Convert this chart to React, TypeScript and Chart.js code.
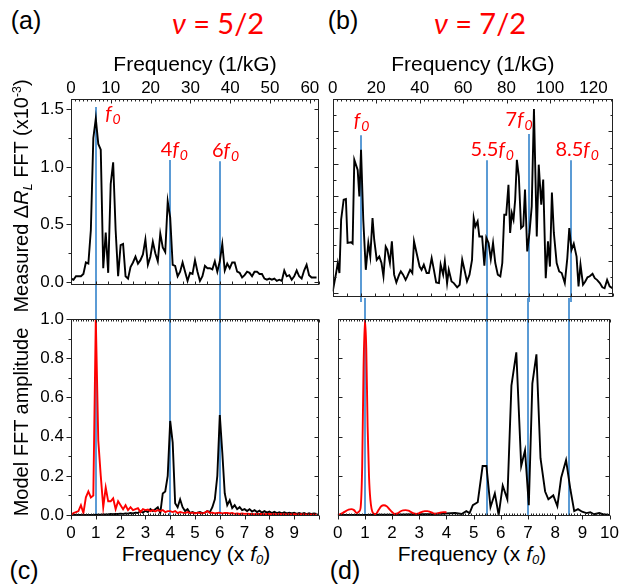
import React, { useEffect, useRef } from 'react';
import { Chart, registerables } from 'chart.js';
Chart.register(...registerables);

// ---------------- data ----------------
// conversion: 1 f0 in 1/kG units for each filling factor
const F0_A = 6.23;
const F0_B = 12.9;

const topTicksA = [0, 10, 20, 30, 40, 50, 60];
const topTicksB = [0, 20, 40, 60, 80, 100, 120];
const yTicksA = [0, 0.5, 1.0, 1.5];
const yTicksC = [0, 0.2, 0.4, 0.6, 0.8, 1.0];
const xTicksC = [0, 1, 2, 3, 4, 5, 6, 7, 8, 9];
const xTicksD = [0, 1, 2, 3, 4, 5, 6, 7, 8, 9, 10];

// harmonic markers (x in units of f0, top of marker line in panel units)
const harmonicsA = [1, 4, 6];
const harmonicTopsA = [1.52, 1.06, 1.05];
const harmonicPrefixA = ['', '4', '6'];
const labelXA = [1.69, 4.17, 6.23];
const labelYA = [1.45, 1.14, 1.13];

const harmonicsB = [1, 5.5, 7, 8.5];
const harmonicTopsB = [4.88, 4.11, 4.92, 4.11];
const harmonicPrefixB = ['', '5.5', '7', '8.5'];
const labelXB = [1.03, 5.69, 6.65, 8.72];
const labelYB = [5.29, 4.39, 5.32, 4.39];

// frequency grid (x f0) for panels (a) and (c)
const freqGridAC = [
  0, 0.1, 0.2, 0.3, 0.4, 0.5, 0.6, 0.7, 0.8, 0.9,
  1, 1.1, 1.2, 1.3, 1.4, 1.5, 1.6, 1.7, 1.8, 1.9,
  2, 2.1, 2.2, 2.3, 2.4, 2.5, 2.6, 2.7, 2.8, 2.9,
  3, 3.1, 3.2, 3.3, 3.4, 3.5, 3.6, 3.7, 3.8, 3.9,
  4, 4.1, 4.2, 4.3, 4.4, 4.5, 4.6, 4.7, 4.8, 4.9,
  5, 5.1, 5.2, 5.3, 5.4, 5.5, 5.6, 5.7, 5.8, 5.9,
  6, 6.1, 6.2, 6.3, 6.4, 6.5, 6.6, 6.7, 6.8, 6.9,
  7, 7.1, 7.2, 7.3, 7.4, 7.5, 7.6, 7.7, 7.8, 7.9,
  8, 8.1, 8.2, 8.3, 8.4, 8.5, 8.6, 8.7, 8.8, 8.9,
  9, 9.1, 9.2, 9.3, 9.4, 9.5, 9.6, 9.7, 9.8, 9.9,
];

// (a) measured FFT, nu = 5/2  (x10^-3)
const measuredA = [
  0.03, 0.02, 0.05, 0.05, 0.05, 0.07, 0.17, 0.16, 0.45, 1.25,
  1.42, 1.2, 1.15, 0.12, 0.43, 0.08, 0.85, 1.04, 0.45, 0.05,
  0.32, 0.33, 0.05, 0.03, 0.13, 0.17, 0.22, 0.16, 0.19, 0.24,
  0.37, 0.15, 0.22, 0.35, 0.25, 0.18, 0.42, 0.30, 0.26, 0.70,
  0.56, 0.15, 0.14, 0.05, 0.09, 0.17, 0.09, 0.01, 0.08, 0.07,
  0.19, 0.09, 0.01, 0.05, 0.14, 0.12, 0.12, 0.11, 0.18, 0.09,
  0.18, 0.33, 0.10, 0.16, 0.12, 0.17, 0.17, 0.09, 0.08, 0.04,
  0.06, 0.09, 0.08, 0.05, 0.09, 0.09, 0.07, 0.07, 0.03, 0.02,
  0.03, 0.02, 0.03, 0.01, 0.02, 0.01, 0.10, 0.05, 0.06, 0.02,
  0.05, 0.10, 0.05, 0.03, 0.10, 0.15, 0.06, 0.04, 0.04, 0.04,
];

// (c) model FFT, nu = 5/2
const modelRedC = [
  0.0, 0.01, 0.015, 0.02, 0.05, 0.01, 0.09, 0.12, 0.09, 0.1,
  1.0, 0.38, 0.2, 0.04, 0.14, 0.07, 0.07, 0.085, 0.03, 0.07,
  0.05, 0.03, 0.05, 0.025, 0.04, 0.025, 0.03, 0.035, 0.015, 0.03,
  0.025, 0.028, 0.02, 0.025, 0.018, 0.025, 0.02, 0.025, 0.015, 0.02,
  0.02, 0.015, 0.02, 0.01, 0.015, 0.012, 0.01, 0.015, 0.01, 0.012,
  0.008, 0.012, 0.01, 0.008, 0.012, 0.02, 0.01, 0.012, 0.008, 0.01,
  0.012, 0.008, 0.01, 0.01, 0.008, 0.01, 0.006, 0.008, 0.005, 0.008,
  0.006, 0.007, 0.005, 0.006, 0.004, 0.006, 0.005, 0.006, 0.004, 0.005,
  0.005, 0.004, 0.005, 0.003, 0.005, 0.004, 0.004, 0.003, 0.004, 0.003,
  0.004, 0.003, 0.003, 0.004, 0.003, 0.003, 0.002, 0.003, 0.002, 0.002,
];
const modelBlackC = [
  0, 0, 0, 0, 0, 0, 0, 0, 0, 0,
  0.002, 0.002, 0.002, 0.003, 0.003, 0.003, 0.005, 0.004, 0.006, 0.005,
  0.007, 0.006, 0.008, 0.007, 0.01, 0.008, 0.012, 0.01, 0.02, 0.012,
  0.022, 0.015, 0.03, 0.02, 0.03, 0.04, 0.01, 0.11, 0.12, 0.2,
  0.48, 0.37, 0.06, 0.04, 0.08, 0.04, 0.02, 0.03, 0.01, 0.015,
  0.01, 0.012, 0.015, 0.01, 0.012, 0.02, 0.015, 0.04, 0.08, 0.2,
  0.51, 0.32, 0.11, 0.05, 0.075, 0.035, 0.05, 0.03, 0.04, 0.025,
  0.03, 0.02, 0.03, 0.018, 0.025, 0.015, 0.022, 0.012, 0.02, 0.012,
  0.018, 0.01, 0.016, 0.01, 0.014, 0.008, 0.014, 0.008, 0.012, 0.008,
  0.012, 0.006, 0.01, 0.006, 0.01, 0.005, 0.009, 0.005, 0.008, 0.005,
];

// (b) measured FFT, nu = 7/2
const freqB = [
  0.00, 0.12, 0.18, 0.24, 0.30, 0.39, 0.47, 0.53, 0.65, 0.71,
  0.77, 0.89, 0.95, 1.01, 1.09, 1.18, 1.27, 1.34, 1.42, 1.48,
  1.57, 1.66, 1.74, 1.81, 1.89, 1.95, 2.04, 2.11, 2.19, 2.27,
  2.37, 2.43, 2.51, 2.60, 2.66, 2.76, 2.84, 2.90, 3.02, 3.10,
  3.17, 3.25, 3.35, 3.43, 3.53, 3.61, 3.69, 3.79, 3.85, 3.94,
  4.00, 4.08, 4.14, 4.24, 4.32, 4.44, 4.53, 4.62, 4.70, 4.79,
  4.88, 4.97, 5.03, 5.09, 5.17, 5.23, 5.33, 5.41, 5.48, 5.56,
  5.64, 5.72, 5.80, 5.89, 5.98, 6.05, 6.12, 6.19, 6.27, 6.33,
  6.39, 6.45, 6.51, 6.57, 6.64, 6.72, 6.80, 6.86, 6.94, 7.02,
  7.10, 7.18, 7.28, 7.35, 7.44, 7.51, 7.60, 7.68, 7.75, 7.82,
  7.89, 7.99, 8.08, 8.17, 8.28, 8.37, 8.44, 8.52, 8.60, 8.70,
  8.77, 8.84, 8.93, 9.01, 9.09, 9.17, 9.27, 9.35, 9.43, 9.53,
  9.62, 9.70, 9.79, 9.88, 9.98,
];
const measuredB = [
  0.05, 0.62, 0.93, 0.62, 2.27, 2.89, 2.91, 1.55, 1.57, 1.53,
  4.12, 3.81, 2.99, 4.43, 2.27, 0.72, 1.55, 1.13, 2.32, 1.65,
  1.03, 1.13, 0.93, 0.52, 1.44, 1.34, 0.93, 1.60, 0.57, 0.33,
  0.57, 0.67, 0.57, 0.41, 0.52, 0.72, 0.62, 1.60, 1.13, 0.82,
  0.72, 0.88, 0.62, 0.62, 1.08, 0.72, 0.33, 0.31, 0.88, 0.57,
  0.98, 0.31, 0.72, 0.36, 0.31, 0.18, 0.26, 1.03, 0.72, 0.36,
  0.57, 1.03, 2.32, 2.06, 2.22, 1.75, 1.75, 0.85, 1.71, 1.55,
  1.05, 1.55, 0.93, 0.57, 0.52, 0.93, 2.42, 2.42, 3.35, 1.86,
  2.47, 2.27, 2.89, 4.12, 3.61, 2.01, 2.08, 3.20, 1.29, 1.86,
  2.68, 5.69, 1.75, 3.97, 2.73, 3.51, 0.46, 1.60, 0.82, 3.11,
  1.86, 0.93, 0.67, 0.62, 0.31, 1.08, 2.01, 1.34, 1.53, 1.13,
  0.21, 0.88, 0.26, 0.36, 0.49, 0.52, 0.60, 0.46, 0.41, 0.31,
  0.18, 0.15, 0.41, 0.21, 0.15,
];

// (d) model FFT, nu = 7/2
const freqRedD = [
  0, 0.1, 0.2, 0.3, 0.4, 0.5, 0.6, 0.7, 0.8, 0.85,
  0.9, 0.95, 1.0, 1.05, 1.1, 1.15, 1.2, 1.3, 1.4, 1.5,
  1.6, 1.7, 1.8, 1.9, 2.0, 2.1, 2.2, 2.3, 2.4, 2.5,
  2.6, 2.7, 2.8, 2.9, 3.0, 3.1, 3.2, 3.3, 3.4, 3.5,
  3.6, 3.7, 3.8, 3.9, 4.0,
];
const modelRedD = [
  0.002, 0.005, 0.012, 0.02, 0.028, 0.03, 0.025, 0.01, 0.02, 0.05,
  0.25, 0.75, 1.0, 0.85, 0.45, 0.2, 0.08, 0.01, 0.005, 0.025,
  0.045, 0.05, 0.045, 0.03, 0.015, 0.005, 0.008, 0.018, 0.024, 0.025,
  0.022, 0.015, 0.008, 0.006, 0.01, 0.016, 0.02, 0.02, 0.016, 0.01,
  0.007, 0.01, 0.013, 0.015, 0.014,
];
const freqBlackD = [
  0, 0.5, 1, 1.5, 2, 2.5, 3, 3.5, 3.99, 4.32,
  4.56, 4.73, 4.85, 4.97, 5.15, 5.33, 5.47, 5.62, 5.78, 5.92,
  6.07, 6.24, 6.39, 6.57, 6.75, 6.89, 7.03, 7.16, 7.31, 7.46,
  7.63, 7.75, 7.93, 8.08, 8.22, 8.40, 8.56, 8.70, 8.84, 8.99,
  9.15, 9.29, 9.43, 9.62, 9.76, 10.0,
];
const modelBlackD = [
  0, 0, 0, 0.001, 0.002, 0.003, 0.004, 0.005, 0.008, 0.01,
  0.005, 0.02, 0.01, 0.05, 0.065, 0.25, 0.25, 0.04, 0.11, 0.0,
  0.15, 0.08, 0.66, 0.83, 0.25, 0.33, 0.05, 0.67, 0.82, 0.29,
  0.12, 0.08, 0.10, 0.045, 0.19, 0.28, 0.13, 0.02, 0.03, 0.017,
  0.01, 0.014, 0.004, 0.01, 0.004, 0.0,
];

// ---------------- styling ----------------
const FONT = '"Liberation Sans", Arial, sans-serif';
const LABEL_FONT = 'Lato, "Open Sans", sans-serif';
const BLUE = '#5B9BD5';
const RED = '#FF0000';
const FRAME = '#222';
const TICK_SIZE = 17;

const toPoints = (xs: number[], ys: number[]) => xs.map((x, i) => ({ x, y: ys[i] }));

type Side = {
  pos: 'left' | 'right' | 'top' | 'bottom';
  scale: string;
  step: number;
  major: number;
  majorDir: 'in' | 'out';
  minorDir: 'in' | 'out';
  majorLen: number;
  minorLen: number;
};

const framePlugin = {
  id: 'frame',
  afterDraw(chart: any, _args: any, opts: any) {
    const sides: Side[] = opts && opts.sides;
    if (!sides) return;
    const { ctx, chartArea: ca } = chart;
    const L = Math.round(ca.left) + 0.5;
    const R = Math.round(ca.right) - 0.5;
    const T = Math.round(ca.top) + 0.5;
    const B = Math.round(ca.bottom) - 0.5;
    ctx.save();
    ctx.strokeStyle = FRAME;
    ctx.lineWidth = 1;
    ctx.strokeRect(L, T, R - L, B - T);
    for (const s of sides) {
      const sc = chart.scales[s.scale];
      const start = Math.ceil((sc.min - 1e-9) / s.step);
      ctx.beginPath();
      for (let k = start; k * s.step <= sc.max + 1e-9; k++) {
        const v = k * s.step;
        const isMajor = Math.abs(v / s.major - Math.round(v / s.major)) < 1e-6;
        const len = isMajor ? s.majorLen : s.minorLen;
        const dir = isMajor ? s.majorDir : s.minorDir;
        const p = Math.round(sc.getPixelForValue(v)) + 0.5;
        if (s.pos === 'left') {
          ctx.moveTo(L, p); ctx.lineTo(dir === 'out' ? L - len : L + len, p);
        } else if (s.pos === 'right') {
          ctx.moveTo(R, p); ctx.lineTo(dir === 'out' ? R + len : R - len, p);
        } else if (s.pos === 'top') {
          ctx.moveTo(p, T); ctx.lineTo(p, dir === 'out' ? T - len : T + len);
        } else {
          ctx.moveTo(p, B); ctx.lineTo(p, dir === 'out' ? B + len : B - len);
        }
      }
      ctx.stroke();
    }
    ctx.restore();
  },
};

function drawHarmonicLabel(ctx: CanvasRenderingContext2D, cx: number, cy: number, prefix: string, size: number) {
  const up = `${size}px ${LABEL_FONT}`;
  const it = `italic ${size}px ${LABEL_FONT}`;
  const sub = `italic ${Math.round(size * 0.68)}px ${LABEL_FONT}`;
  ctx.font = up; const wp = ctx.measureText(prefix).width;
  ctx.font = it; const wf = ctx.measureText('f').width;
  ctx.font = sub; const ws = ctx.measureText('0').width;
  const total = wp + wf + ws + 1;
  let x = cx - total / 2;
  const base = cy + size * 0.25;
  ctx.fillStyle = RED;
  ctx.textAlign = 'left';
  ctx.textBaseline = 'alphabetic';
  if (prefix) { ctx.font = up; ctx.fillText(prefix, x, base); x += wp; }
  ctx.font = it; ctx.fillText('f', x, base); x += wf + 1;
  ctx.font = sub; ctx.fillText('0', x, base + size * 0.2);
}

const harmonicsPlugin = {
  id: 'harmonics',
  beforeDatasetsDraw(chart: any, _args: any, opts: any) {
    if (!opts || !opts.xs) return;
    const { ctx, chartArea } = chart;
    const xs = chart.scales.x;
    const ys = chart.scales.y;
    ctx.save();
    ctx.strokeStyle = BLUE;
    ctx.lineWidth = 2;
    opts.xs.forEach((hx: number, i: number) => {
      const px = Math.round(xs.getPixelForValue(hx));
      const y0 = opts.tops ? ys.getPixelForValue(opts.tops[i]) : 0;
      const y1 = opts.tops ? chart.height : chartArea.bottom;
      ctx.beginPath();
      ctx.moveTo(px, y0);
      ctx.lineTo(px, y1);
      ctx.stroke();
    });
    if (opts.labelX) {
      opts.labelX.forEach((lx: number, i: number) => {
        drawHarmonicLabel(ctx, xs.getPixelForValue(lx), ys.getPixelForValue(opts.labelY[i]), opts.prefix[i], 20);
      });
    }
    ctx.restore();
  },
};

const tickFont = { family: FONT, size: TICK_SIZE };

function leftAxis(min: number, max: number, ticks: number[]) {
  return {
    type: 'linear', position: 'left', min, max,
    afterBuildTicks: (ax: any) => { ax.ticks = ticks.map((v) => ({ value: v })); },
    afterFit: (ax: any) => { ax.width = 71; },
    grid: { display: false, drawTicks: false },
    border: { display: false },
    ticks: { font: tickFont, color: '#000', padding: 7, autoSkip: false, callback: (v: any) => Number(v).toFixed(1) },
  };
}

function topAxis(max: number, ticks: number[]) {
  return {
    type: 'linear', position: 'top', min: 0, max,
    afterBuildTicks: (ax: any) => { ax.ticks = ticks.map((v) => ({ value: v })); },
    afterFit: (ax: any) => { ax.height = 59; },
    grid: { display: false, drawTicks: false },
    border: { display: false },
    ticks: { font: { ...tickFont, lineHeight: 1 }, color: '#000', padding: 2, autoSkip: false, maxRotation: 0, callback: (v: any) => String(v) },
    title: { display: true, text: 'Frequency (1/kG)', color: '#000', font: { family: FONT, size: 21 }, padding: { top: 13, bottom: 0 } },
  };
}

function bottomAxis(ticks: number[], height: number) {
  return {
    type: 'linear', position: 'bottom', min: 0, max: 10,
    afterBuildTicks: (ax: any) => { ax.ticks = ticks.map((v) => ({ value: v })); },
    afterFit: (ax: any) => { ax.height = height; },
    grid: { display: false, drawTicks: false },
    border: { display: false },
    ticks: { font: tickFont, color: '#000', padding: 7, autoSkip: false, maxRotation: 0, callback: (v: any) => String(v) },
  };
}

const lineDs = (data: any[], color: string, width: number, extra: any = {}) => ({
  data, borderColor: color, backgroundColor: color, borderWidth: width, pointRadius: 0, tension: 0, fill: false, ...extra,
});

const baseOptions = (padding: any) => ({
  responsive: false,
  animation: false,
  devicePixelRatio: 1,
  layout: { padding },
  events: [],
});

function buildA(): any {
  return {
    type: 'line',
    data: { datasets: [lineDs(toPoints(freqGridAC, measuredA), '#000', 1.9)] },
    options: {
      ...baseOptions({ left: 0, right: 7, top: 0, bottom: 5 }),
      plugins: {
        legend: { display: false }, tooltip: { enabled: false },
        harmonics: { xs: harmonicsA, tops: harmonicTopsA, labelX: labelXA, labelY: labelYA, prefix: harmonicPrefixA },
        frame: {
          sides: [
            { pos: 'left', scale: 'y', step: 0.25, major: 0.5, majorDir: 'out', minorDir: 'out', majorLen: 5, minorLen: 3 },
            { pos: 'right', scale: 'y', step: 0.25, major: 0.5, majorDir: 'in', minorDir: 'in', majorLen: 4, minorLen: 2 },
            { pos: 'top', scale: 'xTop', step: 1, major: 10, majorDir: 'in', minorDir: 'in', majorLen: 4, minorLen: 2 },
            { pos: 'bottom', scale: 'x', step: 0.5, major: 1, majorDir: 'in', minorDir: 'in', majorLen: 3, minorLen: 3 },
          ],
        },
      },
      scales: {
        x: { type: 'linear', display: false, min: 0, max: 10 },
        xTop: topAxis(F0_A * 10, topTicksA),
        y: leftAxis(-0.024, 1.59, yTicksA),
      },
    },
    plugins: [framePlugin, harmonicsPlugin],
  };
}

function buildB(): any {
  return {
    type: 'line',
    data: { datasets: [lineDs(toPoints(freqB, measuredB), '#000', 1.9)] },
    options: {
      ...baseOptions({ left: 6, right: 13, top: 0, bottom: 5 }),
      plugins: {
        legend: { display: false }, tooltip: { enabled: false },
        harmonics: { xs: harmonicsB, tops: harmonicTopsB, labelX: labelXB, labelY: labelYB, prefix: harmonicPrefixB },
        frame: {
          sides: [
            { pos: 'left', scale: 'y', step: 0.5, major: 1, majorDir: 'in', minorDir: 'in', majorLen: 5, minorLen: 3 },
            { pos: 'right', scale: 'y', step: 0.5, major: 1, majorDir: 'in', minorDir: 'in', majorLen: 4, minorLen: 2 },
            { pos: 'top', scale: 'xTop', step: 2, major: 20, majorDir: 'in', minorDir: 'in', majorLen: 4, minorLen: 2 },
            { pos: 'bottom', scale: 'x', step: 0.5, major: 1, majorDir: 'in', minorDir: 'in', majorLen: 3, minorLen: 3 },
          ],
        },
      },
      scales: {
        x: { type: 'linear', display: false, min: 0, max: 10 },
        xTop: topAxis(F0_B * 10, topTicksB),
        y: { type: 'linear', display: false, min: -0.12, max: 6 },
      },
    },
    plugins: [framePlugin, harmonicsPlugin],
  };
}

function buildC(): any {
  return {
    type: 'line',
    data: {
      datasets: [
        lineDs(toPoints(freqGridAC, modelRedC), RED, 1.9),
        lineDs(toPoints(freqGridAC, modelBlackC), '#000', 1.9),
      ],
    },
    options: {
      ...baseOptions({ left: 0, right: 7, top: 21, bottom: 0 }),
      plugins: {
        legend: { display: false }, tooltip: { enabled: false },
        harmonics: { xs: harmonicsA },
        frame: {
          sides: [
            { pos: 'left', scale: 'y', step: 0.1, major: 0.2, majorDir: 'out', minorDir: 'out', majorLen: 5, minorLen: 3 },
            { pos: 'right', scale: 'y', step: 0.1, major: 0.2, majorDir: 'in', minorDir: 'in', majorLen: 4, minorLen: 2 },
            { pos: 'top', scale: 'x', step: 0.1, major: 1, majorDir: 'in', minorDir: 'in', majorLen: 3, minorLen: 2 },
            { pos: 'bottom', scale: 'x', step: 0.1, major: 1, majorDir: 'out', minorDir: 'in', majorLen: 4, minorLen: 2 },
          ],
        },
      },
      scales: {
        x: bottomAxis(xTicksC, 24),
        y: leftAxis(-0.005, 1.0, yTicksC),
      },
    },
    plugins: [framePlugin, harmonicsPlugin],
  };
}

function buildD(): any {
  return {
    type: 'line',
    data: {
      datasets: [
        lineDs(toPoints(freqRedD, modelRedD), RED, 1.9, { tension: 0.4, cubicInterpolationMode: 'monotone' }),
        lineDs(toPoints(freqBlackD, modelBlackD), '#000', 1.9),
      ],
    },
    options: {
      ...baseOptions({ left: 6, right: 13, top: 21, bottom: 0 }),
      plugins: {
        legend: { display: false }, tooltip: { enabled: false },
        harmonics: { xs: harmonicsB },
        frame: {
          sides: [
            { pos: 'left', scale: 'y', step: 0.1, major: 0.2, majorDir: 'in', minorDir: 'in', majorLen: 4, minorLen: 2 },
            { pos: 'right', scale: 'y', step: 0.1, major: 0.2, majorDir: 'in', minorDir: 'in', majorLen: 4, minorLen: 2 },
            { pos: 'top', scale: 'x', step: 0.1, major: 1, majorDir: 'in', minorDir: 'in', majorLen: 3, minorLen: 2 },
            { pos: 'bottom', scale: 'x', step: 0.1, major: 1, majorDir: 'out', minorDir: 'in', majorLen: 4, minorLen: 2 },
          ],
        },
      },
      scales: {
        x: bottomAxis(xTicksD, 24),
        y: { type: 'linear', display: false, min: -0.005, max: 1.0 },
      },
    },
    plugins: [framePlugin, harmonicsPlugin],
  };
}

function ChartCanvas({ left, top, width, height, build }: { left: number; top: number; width: number; height: number; build: () => any }) {
  const ref = useRef<HTMLCanvasElement>(null);
  useEffect(() => {
    const chart = new Chart(ref.current as HTMLCanvasElement, build());
    return () => chart.destroy();
  }, [build]);
  return (
    <canvas
      ref={ref}
      width={width}
      height={height}
      style={{ position: 'absolute', left, top, width, height, display: 'block' }}
    />
  );
}

function Txt({ x, y, size, color = '#000', family = FONT, rotate = false, children }: any) {
  return (
    <div
      style={{
        position: 'absolute', left: x, top: y, whiteSpace: 'nowrap', lineHeight: 1,
        fontSize: size, color, fontFamily: family,
        transform: `translate(-50%, -50%)${rotate ? ' rotate(-90deg)' : ''}`,
      }}
    >
      {children}
    </div>
  );
}

const subStyle: any = { fontSize: '0.62em', verticalAlign: '-0.3em', lineHeight: 0 };
const supStyle: any = { fontSize: '0.62em', verticalAlign: '0.55em', lineHeight: 0 };

export default function App() {
  return (
    <div style={{ position: 'absolute', left: 0, top: 0, width: 626, height: 586, background: '#fff', overflow: 'hidden', fontFamily: FONT }}>
      <ChartCanvas left={0} top={298} width={326} height={242} build={buildC} />
      <ChartCanvas left={326} top={298} width={300} height={242} build={buildD} />
      <ChartCanvas left={0} top={40} width={326} height={262} build={buildA} />
      <ChartCanvas left={326} top={40} width={300} height={262} build={buildB} />

      <Txt x={26} y={20} size={25}>(a)</Txt>
      <Txt x={343} y={20} size={25}>(b)</Txt>
      <Txt x={24} y={570} size={25}>(c)</Txt>
      <Txt x={345} y={570} size={25}>(d)</Txt>

      <Txt x={218} y={22} size={29} color={RED} family={LABEL_FONT}><i>ν</i> = 5/2</Txt>
      <Txt x={480} y={22} size={29} color={RED} family={LABEL_FONT}><i>ν</i> = 7/2</Txt>

      <Txt x={21} y={196} size={20} rotate>
        Measured Δ<i>R</i><span style={{ ...subStyle, fontStyle: 'italic' }}>L</span> FFT (x10<span style={supStyle}>-3</span>)
      </Txt>
      <Txt x={21} y={422} size={20} rotate>Model FFT amplitude</Txt>

      <Txt x={196} y={553} size={21}>Frequency (x <i>f</i><span style={{ ...subStyle, fontStyle: 'italic' }}>0</span>)</Txt>
      <Txt x={472} y={553} size={21}>Frequency (x <i>f</i><span style={{ ...subStyle, fontStyle: 'italic' }}>0</span>)</Txt>
    </div>
  );
}
